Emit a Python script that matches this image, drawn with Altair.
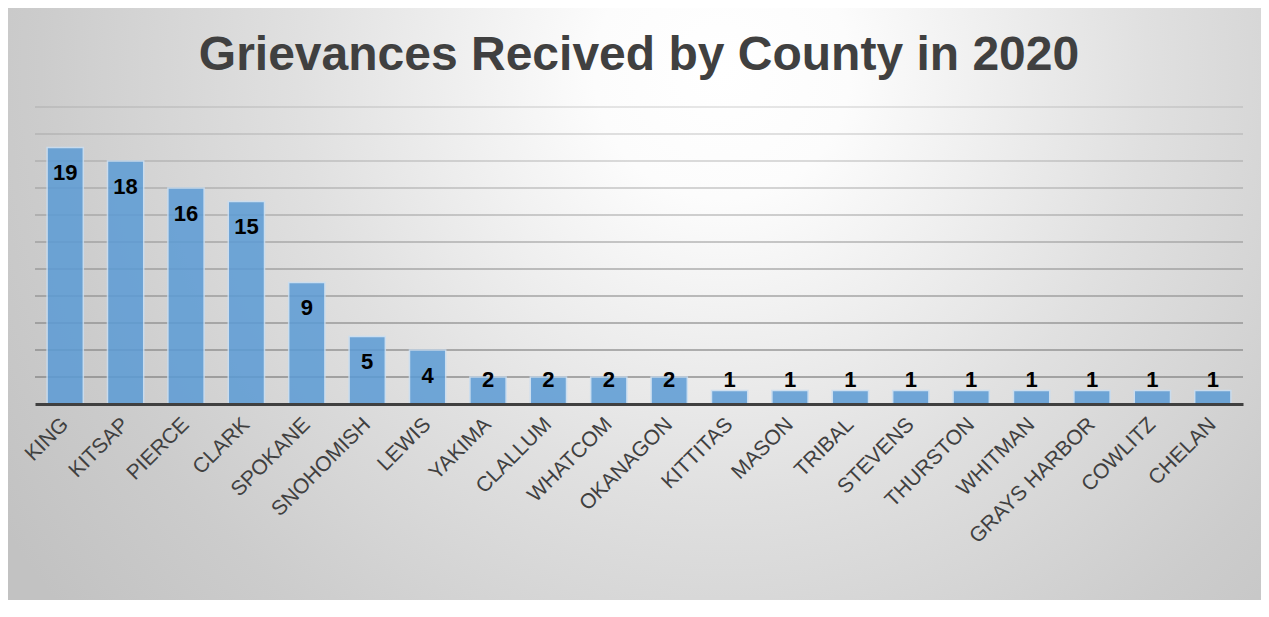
import altair as alt
import pandas as pd

counties = ["KING", "KITSAP", "PIERCE", "CLARK", "SPOKANE", "SNOHOMISH", "LEWIS",
            "YAKIMA", "CLALLUM", "WHATCOM", "OKANAGON", "KITTITAS", "MASON", "TRIBAL",
            "STEVENS", "THURSTON", "WHITMAN", "GRAYS HARBOR", "COWLITZ", "CHELAN"]
counts = [19, 18, 16, 15, 9, 5, 4, 2, 2, 2, 2, 1, 1, 1, 1, 1, 1, 1, 1, 1]
grid_ticks = [2, 4, 6, 8, 10, 12, 14, 16, 18, 20, 22]

df = pd.DataFrame({"county": counties, "count": counts})
grid_df = pd.DataFrame({"tick": grid_ticks})

W, H = 1208, 297
PAD = {"left": 27, "top": 99, "right": 18, "bottom": 196}

y_scale = alt.Scale(domain=[0, 22], nice=False, zero=True)
x_enc = alt.X("county:N", sort=counties,
              scale=alt.Scale(paddingInner=0.4, paddingOuter=0.2),
              axis=alt.Axis(title=None, labelAngle=-45, labelAlign="right",
                            labelBaseline="middle", labelFont="Liberation Sans",
                            labelFontSize=21, labelColor="#404040", labelPadding=17,
                            ticks=False, domainColor="#404040", domainWidth=3,
                            grid=False, zindex=1))

gradient = {
    "gradient": "radial",
    "x1": 0.57, "y1": 0.05, "r1": 0,
    "x2": 0.57, "y2": 0.05, "r2": 0.68,
    "stops": [
        {"offset": 0, "color": "#ffffff"},
        {"offset": 0.15, "color": "#fcfcfc"},
        {"offset": 0.5, "color": "#e0e0e0"},
        {"offset": 0.8, "color": "#cccccc"},
        {"offset": 1, "color": "#c2c2c2"},
    ],
}

background = alt.Chart(alt.Data(values=[{"bg": 1}])).mark_rect(fill=gradient).encode(
    x=alt.value(-PAD["left"]), x2=alt.value(W + PAD["right"]),
    y=alt.value(-PAD["top"]), y2=alt.value(-PAD["top"] + W + PAD["left"] + PAD["right"]),
)

grid = alt.Chart(grid_df).mark_rule(color="#808080", strokeWidth=1.3).encode(
    y=alt.Y("tick:Q", scale=y_scale, axis=None),
    opacity=alt.Opacity("tick:Q", scale=alt.Scale(domain=[2, 22], range=[0.85, 0.25]),
                        legend=None),
)

bars = alt.Chart(df).mark_bar(color="#5b9bd5", opacity=0.85, stroke="#c9def2",
                              strokeWidth=1.5).encode(
    x=x_enc,
    y=alt.Y("count:Q", scale=y_scale, axis=None),
)

labels = alt.Chart(df).transform_calculate(
    label_y="max(datum.count - 1.9, 1.8)"
).mark_text(font="Liberation Sans", fontSize=22, fontWeight="bold", color="#000000",
            baseline="middle").encode(
    x=alt.X("county:N", sort=counties),
    y=alt.Y("label_y:Q", scale=y_scale, axis=None),
    text=alt.Text("count:Q"),
)

chart = alt.layer(background, grid, bars, labels).properties(
    width=W, height=H,
    title=alt.TitleParams("Grievances Recived by County in 2020", font="Liberation Sans",
                          fontSize=48, fontWeight="bold", color="#404040",
                          anchor="middle", frame="group", offset=-72, zindex=1),
    autosize=alt.AutoSizeParams(type="none"),
    padding=PAD,
).configure_view(stroke=None).configure(background="#d8d8d8")

chart.save("out.html", embed_options={"renderer": "svg", "actions": False})
